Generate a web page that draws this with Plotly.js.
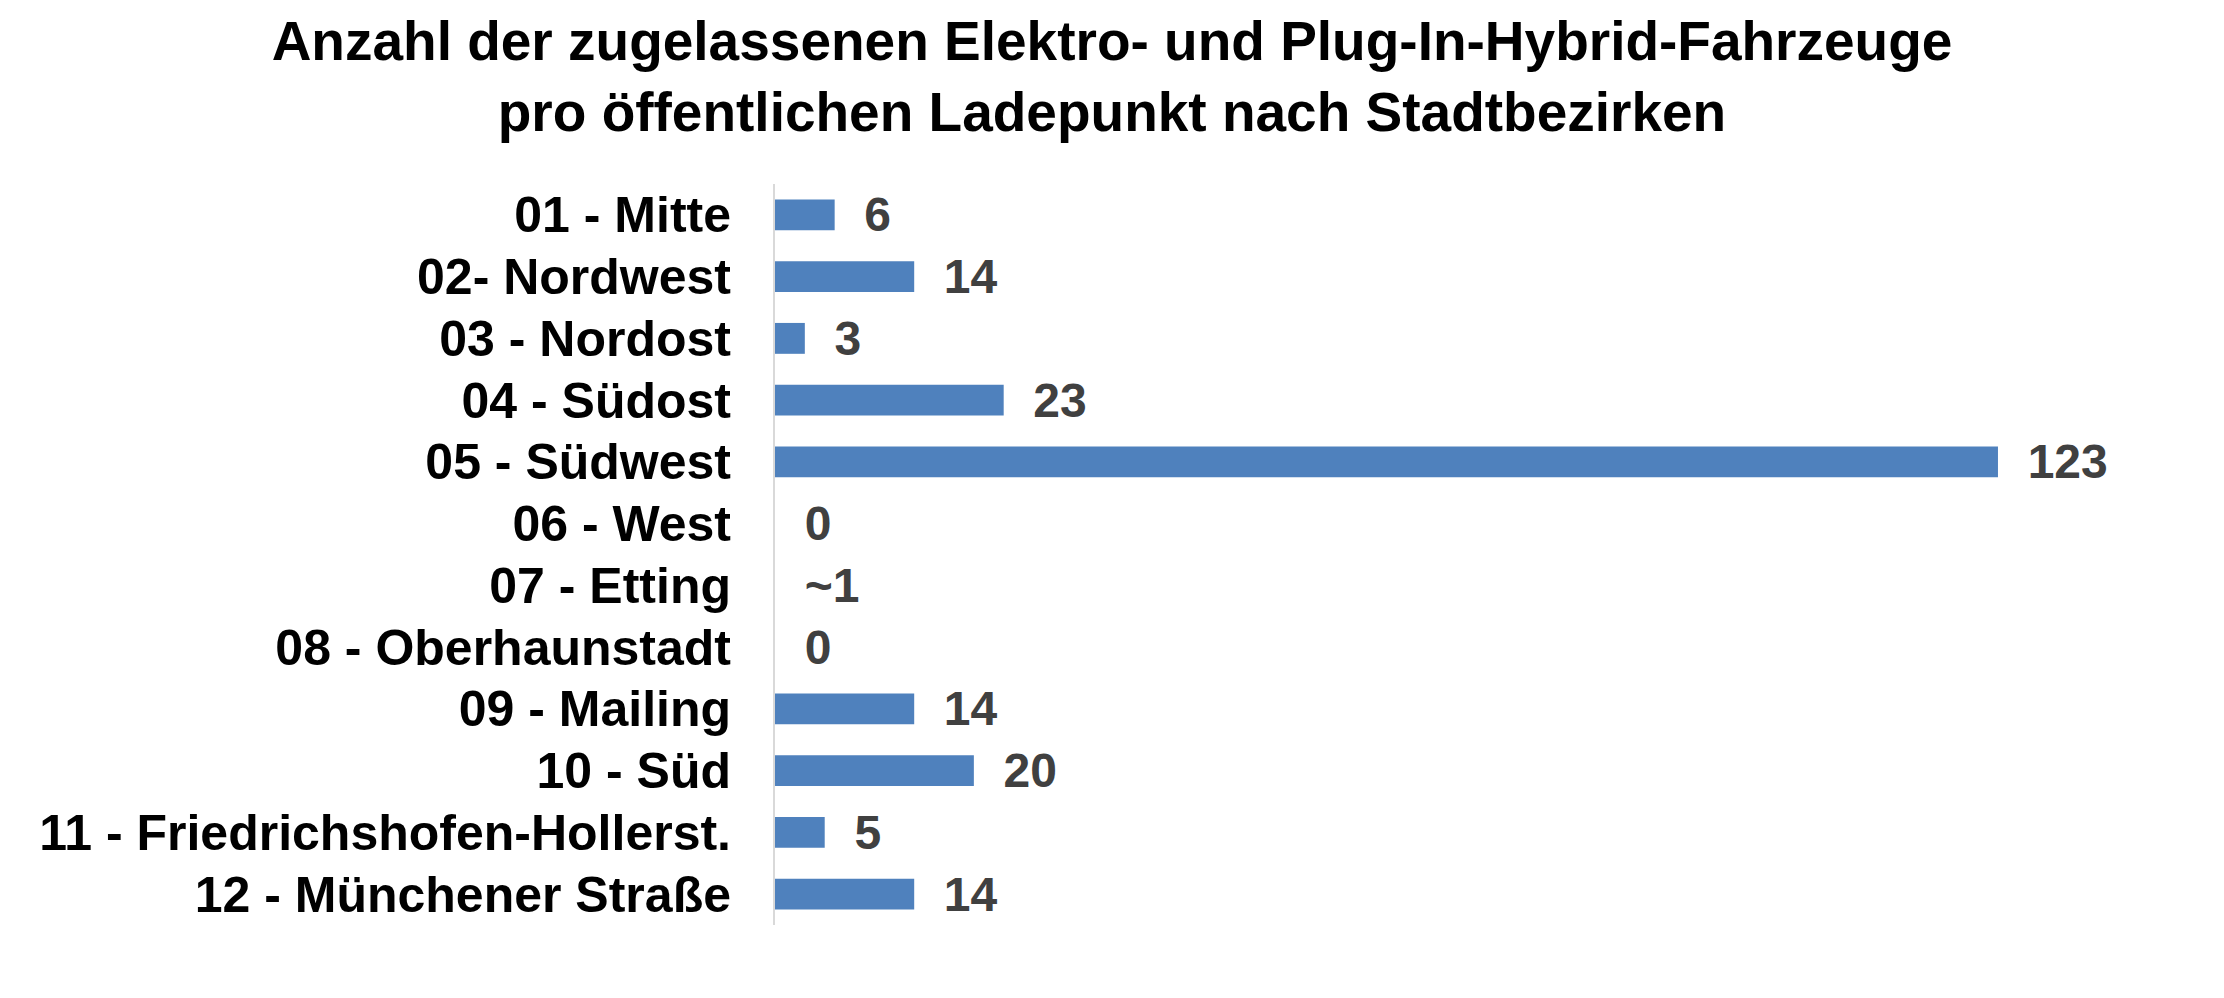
<!DOCTYPE html>
<html>
<head>
<meta charset="utf-8">
<script src="https://cdn.plot.ly/plotly-3.0.1.min.js"></script>
<style>
  html, body { margin: 0; padding: 0; background: #fff; }
  #myGraph { width: 2224px; height: 998px; }
</style>
</head>
<body>
<div id="myGraph"></div>
<script>
let myGraph = document.getElementById('myGraph');

// Stadtbezirke (von oben nach unten)
let bezirke = [
  "01 - Mitte",
  "02- Nordwest",
  "03 - Nordost",
  "04 - Südost",
  "05 - Südwest",
  "06 - West",
  "07 - Etting",
  "08 - Oberhaunstadt",
  "09 - Mailing",
  "10 - Süd",
  "11 - Friedrichshofen-Hollerst.",
  "12 - Münchener Straße"
];

// Fahrzeuge pro Ladepunkt
let fahrzeugeProLadepunkt = [6, 14, 3, 23, 123, 0, 0, 0, 14, 20, 5, 14];

// Beschriftungen an den Balken
let beschriftungen = ["6", "14", "3", "23", "123", "0", "~1", "0", "14", "20", "5", "14"];

let schrift = '"Liberation Sans", Arial, sans-serif';

let trace1 = {
  type: "bar",
  orientation: "h",
  y: bezirke,
  x: fahrzeugeProLadepunkt,
  // zwei geschützte Leerzeichen als Abstand zum Balken
  text: beschriftungen.map(t => "\u00a0\u00a0" + t),
  textposition: "outside",
  constraintext: "none",
  cliponaxis: false,
  textfont: {
    family: schrift,
    size: 48,
    color: "#404040",
    weight: "bold",
  },
  marker: { color: "#4f81bd" },
  hoverinfo: "none",
};

let layout = {
  width: 2224,
  height: 998,
  margin: { l: 775, r: 57, t: 184, b: 73 },
  paper_bgcolor: "#ffffff",
  plot_bgcolor: "#ffffff",
  showlegend: false,
  bargap: 0.5,
  font: { family: schrift, color: "#000000" },
  title: {
    text: "Anzahl der zugelassenen Elektro- und Plug-In-Hybrid-Fahrzeuge<br>pro öffentlichen Ladepunkt nach Stadtbezirken",
    xref: "container",
    x: 0.5,
    xanchor: "center",
    yref: "container",
    y: 0.94,
    yanchor: "top",
    font: {
      family: schrift,
      size: 55,
      color: "#000000",
      weight: "bold",
    }
  },
  xaxis: {
    range: [0, 140],
    visible: false,
    showgrid: false,
    zeroline: false,
  },
  yaxis: {
    autorange: "reversed",
    showgrid: false,
    zeroline: false,
    showline: true,
    linecolor: "#d9d9d9",
    linewidth: 2,
    ticks: "",
    ticklabelstandoff: 32,
    tickfont: {
      family: schrift,
      size: 50,
      color: "#000000",
      weight: "bold",
    },
  },
};

Plotly.newPlot(myGraph, [trace1], layout, { staticPlot: true });
</script>
</body>
</html>
